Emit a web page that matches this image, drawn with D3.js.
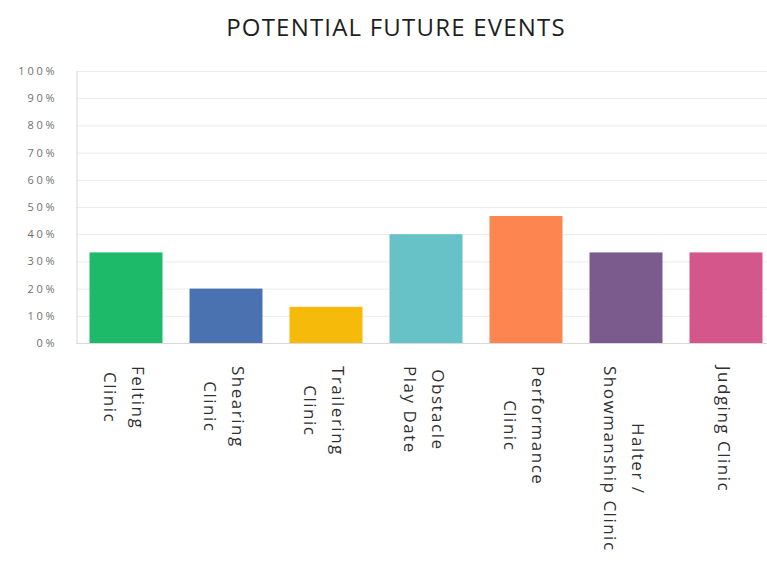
<!DOCTYPE html>
<html>
<head>
<meta charset="utf-8">
<script src="https://cdn.jsdelivr.net/npm/d3@7"></script>
<style>
  body { margin: 0; background: #fff; }
  svg { display: block; }
  .axis path { stroke: #d9d9d9; }
  .axis text { fill: #707070; font-family: "Open Sans", sans-serif; font-size: 11px; letter-spacing: 2.8px; }
</style>
</head>
<body>
<div id="chart"></div>
<script>
const width = 767;
const height = 564;

const title = "POTENTIAL FUTURE EVENTS";

// categories, label lines (as broken in the picture), values in %
const categories = ["Felting Clinic", "Shearing Clinic", "Trailering Clinic", "Obstacle Play Date",
  "Performance Clinic", "Halter / Showmanship Clinic", "Judging Clinic"];
const labelLines = [
  ["Felting", "Clinic"],
  ["Shearing", "Clinic"],
  ["Trailering", "Clinic"],
  ["Obstacle", "Play Date"],
  ["Performance", "Clinic"],
  ["Halter /", "Showmanship Clinic"],
  ["Judging Clinic"],
];
const values = [33.3, 20, 13.3, 40, 46.7, 33.3, 33.3];
const colors = ["#1dba6a", "#4a72b0", "#f5ba0a", "#67c2c8", "#fd8550", "#7b5a8e", "#d4578c"];
const yTicks = [0, 10, 20, 30, 40, 50, 60, 70, 80, 90, 100];

const plot = { left: 76, right: 776, top: 71, bottom: 343 };

const svg = d3
  .select("#chart")
  .append("svg")
  .attr("width", width)
  .attr("height", height);

svg
  .append("text")
  .attr("x", 396)
  .attr("y", 36)
  .attr("text-anchor", "middle")
  .style("font-family", "'Open Sans', sans-serif")
  .style("font-size", "24px")
  .style("letter-spacing", "1.2px")
  .style("fill", "#1e1e1e")
  .text(title);

const x = d3
  .scaleBand()
  .domain(categories)
  .range([plot.left, plot.right])
  .paddingInner(0.27)
  .paddingOuter(0.135);

const y = d3.scaleLinear().domain([0, 100]).range([plot.bottom, plot.top]);

// gridlines
svg
  .append("g")
  .selectAll("line")
  .data(yTicks)
  .enter()
  .append("line")
  .attr("x1", plot.left)
  .attr("x2", width)
  .attr("y1", (d) => y(d) + 0.5)
  .attr("y2", (d) => y(d) + 0.5)
  .style("stroke", "#ececec");

const yAxis = d3
  .axisLeft(y)
  .tickValues(yTicks)
  .tickFormat((d) => d + "%")
  .tickSizeInner(0)
  .tickSizeOuter(0)
  .tickPadding(19);

svg
  .append("g")
  .attr("class", "axis")
  .attr("transform", "translate(" + (plot.left + 0.5) + ",0)")
  .call(yAxis);

svg
  .append("line")
  .attr("x1", plot.left)
  .attr("x2", width)
  .attr("y1", plot.bottom + 0.5)
  .attr("y2", plot.bottom + 0.5)
  .style("stroke", "#d9d9d9");

svg
  .append("g")
  .selectAll("rect")
  .data(categories)
  .enter()
  .append("rect")
  .attr("x", (d) => x(d))
  .attr("y", (d, i) => y(values[i]))
  .attr("width", x.bandwidth())
  .attr("height", (d, i) => y(0) - y(values[i]))
  .style("fill", (d, i) => colors[i]);

// rotated category labels
const lineGap = 28;
const labelTop = 366;

svg
  .append("g")
  .selectAll("g")
  .data(categories)
  .enter()
  .append("g")
  .attr("transform", (d) => "translate(" + (x(d) + x.bandwidth() / 2 - 2) + "," + labelTop + ") rotate(90)")
  .each(function (d, i) {
    const g = d3.select(this);
    const lines = labelLines[i];
    const texts = lines.map((t, j) =>
      g
        .append("text")
        .attr("y", (j - (lines.length - 1) / 2) * lineGap)
        .attr("dominant-baseline", "central")
        .style("font-family", "'Open Sans', sans-serif")
        .style("font-size", "17px")
        .style("letter-spacing", "1.5px")
        .style("fill", "#303030")
        .text(t)
    );
    const lens = texts.map((t) => t.node().getComputedTextLength());
    const maxLen = d3.max(lens);
    texts.forEach((t, j) => t.attr("x", (maxLen - lens[j]) / 2));
  });
</script>
</body>
</html>
